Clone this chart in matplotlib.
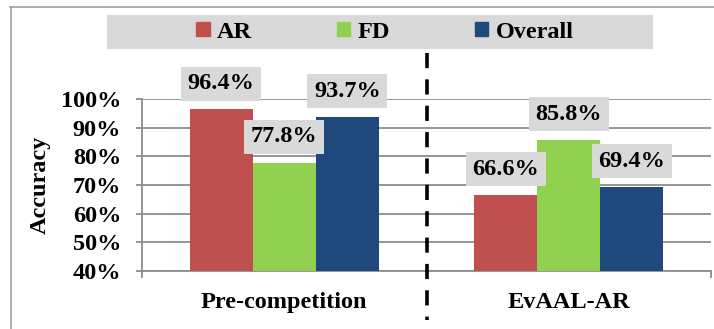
import matplotlib
matplotlib.use("Agg")
import matplotlib.pyplot as plt
from matplotlib.lines import Line2D
from matplotlib.patches import Rectangle, Patch
import matplotlib.transforms as mtransforms
import numpy as np

categories = ["Pre-competition", "EvAAL-AR"]
series_names = ["AR", "FD", "Overall"]
ar_values = [96.4, 66.6]
fd_values = [77.8, 85.8]
overall_values = [93.7, 69.4]
y_ticks = [40, 50, 60, 70, 80, 90, 100]
colors = ["#C0504D", "#92D050", "#1F497D"]

plt.rcParams['font.family'] = ['Liberation Serif', 'DejaVu Serif']
plt.rcParams['font.weight'] = 'bold'
FS = 17.5

W, H = 714, 329
fig = plt.figure(figsize=(W / 100, H / 100), dpi=100)
ax = fig.add_axes([142 / W, 1 - 271 / H, (711 - 142) / W, (271 - 99) / H])

x = np.arange(len(categories))
bw = 0.222
all_vals = [ar_values, fd_values, overall_values]
for i, (name, vals) in enumerate(zip(series_names, all_vals)):
    pos = x + (i - 1) * bw
    ax.bar(pos, vals, width=bw, color=colors[i], label=name, zorder=3)
    for p, v in zip(pos, vals):
        ax.annotate(f"{v:.1f}%", xy=(p, v), xytext=(0, 18.5), textcoords="offset points",
                    ha="center", va="center", fontsize=FS, fontweight="bold",
                    bbox=dict(boxstyle="square,pad=0.27", fc="#D9D9D9", ec="none"),
                    zorder=5, annotation_clip=False)

ax.set_xlim(-0.5, 1.5)
ax.set_ylim(40, 100)
ax.set_yticks(y_ticks)
ax.set_yticklabels([f"{t}%" for t in y_ticks], fontsize=FS, fontweight="bold")
ax.yaxis.grid(True, color="#8C8C8C", linewidth=1.3, zorder=0)
ax.set_axisbelow(True)

ax.set_xticks(x)
ax.set_xticklabels(categories, fontsize=FS, fontweight="bold")
ax.tick_params(axis="x", which="major", length=0, pad=15)
ax.set_xticks([-0.5, 0.5, 1.5], minor=True)
ax.tick_params(axis="x", which="minor", length=5, width=1.3, color="#8C8C8C", direction="out")
ax.tick_params(axis="y", length=4.5, width=1.3, color="#8C8C8C", pad=10.5)

for s in ["top", "right"]:
    ax.spines[s].set_visible(False)
for s in ["left", "bottom"]:
    ax.spines[s].set_color("#8C8C8C")
    ax.spines[s].set_linewidth(1.3)

ax.set_ylabel("Accuracy", fontsize=FS, fontweight="bold", labelpad=7)

# dashed separator between categories
trans = mtransforms.blended_transform_factory(ax.transData, fig.transFigure)
ax.add_line(Line2D([0.5, 0.5], [1 - 53 / H, 1 - 320 / H], transform=trans, color="black",
                   linewidth=2.6, linestyle=(0, (4.2, 3.1)), dash_capstyle="butt",
                   clip_on=False, zorder=6))

# legend background
fig.add_artist(Rectangle((107 / W, 1 - 49 / H), (653 - 107) / W, 34 / H,
                         transform=fig.transFigure, fc="#D9D9D9", ec="none", zorder=1))
handles = [Patch(color=c, label=n) for c, n in zip(colors, series_names)]
leg = fig.legend(handles=handles, loc="center", bbox_to_anchor=(385 / W, 1 - 32 / H),
                 ncol=3, frameon=False, prop={'weight': 'bold', 'size': FS},
                 handlelength=0.55, handleheight=0.55, handletextpad=0.3, columnspacing=3.5)
leg.set_zorder(2)

# outer border
fig.add_artist(Line2D([10 / W, 1], [1 - 7 / H, 1 - 7 / H], transform=fig.transFigure,
                      color="#A0A0A0", linewidth=1.2))
fig.add_artist(Line2D([11 / W, 11 / W], [0, 1 - 7 / H], transform=fig.transFigure,
                      color="#A0A0A0", linewidth=1.2))

fig.savefig("out.png", dpi=100)
